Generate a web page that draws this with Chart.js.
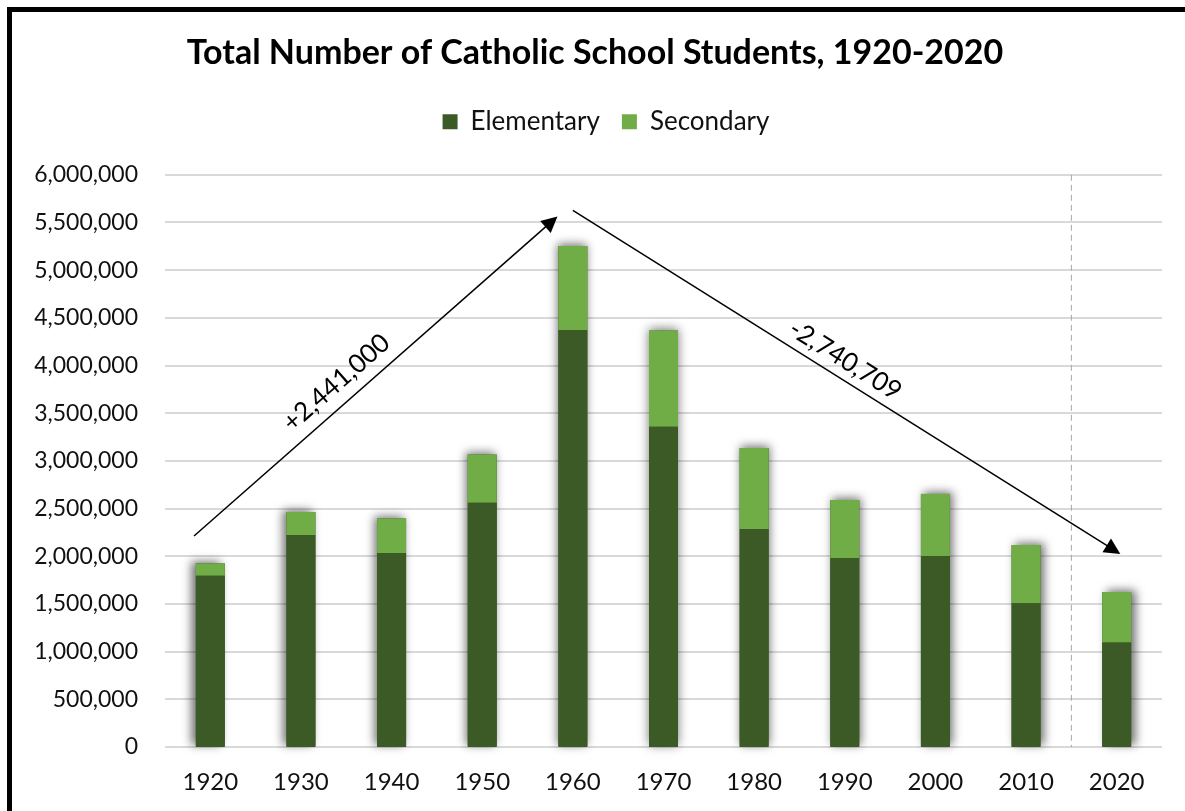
<!DOCTYPE html>
<html lang="en">
<head>
<meta charset="UTF-8" />
<title>Total Number of Catholic School Students, 1920-2020</title>
<style>
  html, body { margin: 0; padding: 0; background: #fff; overflow: hidden; }
  .frame { position: absolute; left: 7px; top: 7px; width: 1210px; height: 840px; border: 5px solid #000; box-sizing: border-box; }
  .box { position: absolute; left: 0; top: 0; width: 1185px; height: 811px; }
</style>
<script src="https://cdn.jsdelivr.net/npm/chart.js"></script>
</head>
<body>
<div class="frame"></div>
<div class="box"><canvas id="myChart"></canvas></div>

<script>
  // data
  const years = ["1920", "1930", "1940", "1950", "1960", "1970", "1980", "1990", "2000", "2010", "2020"];
  const elementary = [1795000, 2222000, 2035000, 2561000, 4373000, 3359000, 2285000, 1983000, 2004000, 1507000, 1095000];
  const secondary = [130000, 242000, 361000, 506000, 880000, 1008000, 850000, 606000, 650000, 610000, 530000];
  const seriesNames = ["Elementary", "Secondary"];
  const changeLabels = ["+2,441,000", "-2,740,709"];

  const FONT = "Lato, 'Open Sans', sans-serif";
  const DARK = "#3b5a26";
  const LIGHT = "#70ad47";

  // perspective-ish drop shadow behind each stacked bar
  const barShadow = {
    id: "barShadow",
    beforeDatasetsDraw(chart) {
      const ctx = chart.ctx;
      const area = chart.chartArea;
      const tops = chart.getDatasetMeta(1).data;
      const base = chart.scales.y.getPixelForValue(0);
      const mid = (area.left + area.right) / 2;
      ctx.save();
      tops.forEach((bar) => {
        const k = (bar.x - mid) / (area.right - mid);
        ctx.shadowColor = "rgba(0,0,0,0.55)";
        ctx.shadowBlur = 10;
        ctx.shadowOffsetX = k * 5;
        ctx.shadowOffsetY = -2;
        ctx.fillStyle = DARK;
        ctx.fillRect(bar.x - bar.width / 2, bar.y, bar.width, base - bar.y);
      });
      ctx.restore();
    },
  };

  // push the plot down below the legend, and nudge the legend right a bit
  const legendGap = {
    id: "legendGap",
    beforeInit(chart) {
      const fit = chart.legend.fit;
      chart.legend.fit = function () {
        fit.bind(chart.legend)();
        this.height += 30;
      };
    },
    afterLayout(chart) {
      chart.legend.left += 11;
      chart.legend.right += 11;
    },
  };

  // arrows + dashed divider, placed in data space (category index, value)
  const arrows = [
    { from: [-0.18, 2213000], to: [3.83, 5563000], text: changeLabels[0], t: 0.43, off: 21 },
    { from: [4.0, 5626000], to: [10.04, 2025000], text: changeLabels[1], t: 0.48, off: 18 },
  ];

  const extras = {
    id: "extras",
    afterDatasetsDraw(chart) {
      const ctx = chart.ctx;
      const x = chart.scales.x;
      const y = chart.scales.y;
      const area = chart.chartArea;

      // dashed line between 2010 and 2020
      const dx = x.getPixelForValue(9.5);
      ctx.save();
      ctx.strokeStyle = "#a6a6a6";
      ctx.lineWidth = 1;
      ctx.setLineDash([6, 4]);
      ctx.beginPath();
      ctx.moveTo(dx, area.top);
      ctx.lineTo(dx, area.bottom);
      ctx.stroke();
      ctx.restore();

      arrows.forEach((a) => {
        const x1 = x.getPixelForValue(a.from[0]);
        const y1 = y.getPixelForValue(a.from[1]);
        const x2 = x.getPixelForValue(a.to[0]);
        const y2 = y.getPixelForValue(a.to[1]);
        const ang = Math.atan2(y2 - y1, x2 - x1);
        const head = 16;
        ctx.save();
        ctx.strokeStyle = "#000";
        ctx.fillStyle = "#000";
        ctx.lineWidth = 1.5;
        ctx.beginPath();
        ctx.moveTo(x1, y1);
        ctx.lineTo(x2 - Math.cos(ang) * head * 0.8, y2 - Math.sin(ang) * head * 0.8);
        ctx.stroke();
        ctx.beginPath();
        ctx.moveTo(x2, y2);
        ctx.lineTo(x2 - head * Math.cos(ang) + 8 * Math.sin(ang), y2 - head * Math.sin(ang) - 8 * Math.cos(ang));
        ctx.lineTo(x2 - head * Math.cos(ang) - 8 * Math.sin(ang), y2 - head * Math.sin(ang) + 8 * Math.cos(ang));
        ctx.closePath();
        ctx.fill();

        // label sits just above the line
        const len = Math.hypot(x2 - x1, y2 - y1);
        const nx = Math.sin(ang), ny = -Math.cos(ang);
        const lx = x1 + Math.cos(ang) * len * a.t + nx * a.off;
        const ly = y1 + Math.sin(ang) * len * a.t + ny * a.off;
        ctx.translate(lx, ly);
        ctx.rotate(ang);
        ctx.font = "26px " + FONT;
        ctx.textAlign = "center";
        ctx.textBaseline = "middle";
        ctx.fillText(a.text, 0, 0);
        ctx.restore();
      });
    },
  };

  new Chart(document.getElementById("myChart"), {
    type: "bar",
    data: {
      labels: years,
      datasets: [
        { label: seriesNames[0], data: elementary, backgroundColor: DARK },
        { label: seriesNames[1], data: secondary, backgroundColor: LIGHT },
      ],
    },
    options: {
      responsive: true,
      maintainAspectRatio: false,
      animation: false,
      datasets: { bar: { categoryPercentage: 1, barPercentage: 0.32 } },
      layout: { padding: { left: 28, right: 23, top: 0, bottom: 0 } },
      plugins: {
        tooltip: { enabled: false },
        title: {
          display: true,
          text: "Total Number of Catholic School Students, 1920-2020",
          color: "#000",
          font: { family: FONT, size: 34, weight: "bold" },
          padding: { top: 33, bottom: 13 },
        },
        legend: {
          position: "top",
          labels: {
            boxWidth: 15,
            boxHeight: 15,
            color: "#111",
            font: { family: FONT, size: 26 },
            padding: 22,
          },
        },
      },
      scales: {
        x: {
          stacked: true,
          grid: { display: false },
          border: { display: false },
          ticks: { color: "#111", font: { family: FONT, size: 24 }, padding: 13 },
          afterFit(scale) { scale.height = 64; },
        },
        y: {
          stacked: true,
          min: 0,
          max: 6000000,
          grid: { color: "#d9d9d9", lineWidth: 2, drawTicks: false },
          border: { display: false },
          ticks: {
            stepSize: 500000,
            color: "#111",
            font: { family: FONT, size: 23 },
            padding: 27,
            callback: (v) => v.toLocaleString("en-US"),
          },
          afterFit(scale) { scale.width = 137; },
        },
      },
    },
    plugins: [barShadow, legendGap, extras],
  });
</script>
</body>
</html>
